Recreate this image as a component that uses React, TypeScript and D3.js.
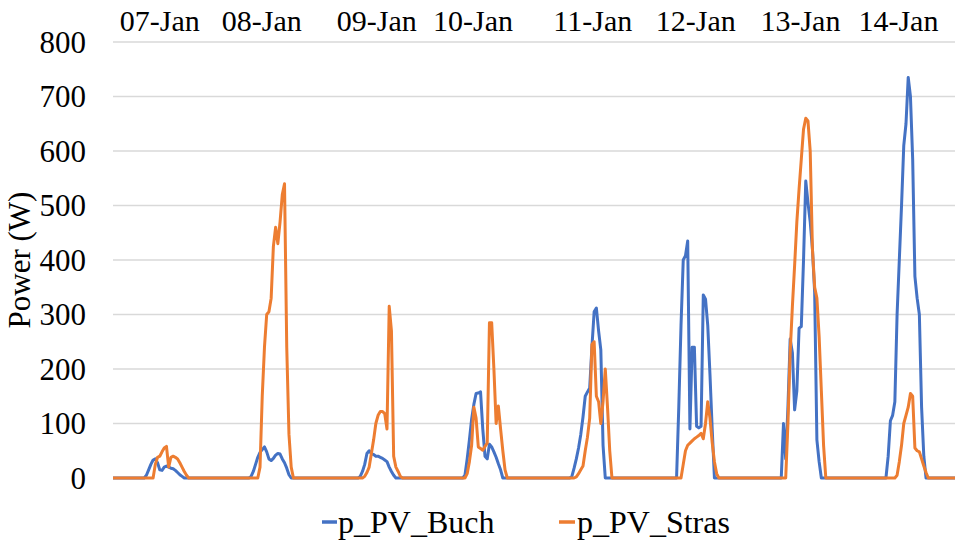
import React from 'react';
import * as d3 from 'd3';

// half-hourly values 06:00 .. 18:00 for each day (W), zero outside
const buchByDay = [
  [0, 0, 0, 5, 15, 25, 33, 35, 28, 15, 14, 20, 22, 20, 18, 17, 14, 10, 6, 3, 0, 0, 0, 0, 0],
  [0, 0, 3, 12, 25, 38, 47, 52, 57, 48, 35, 32, 36, 42, 45, 44, 35, 28, 18, 6, 0, 0, 0, 0, 0],
  [0, 0, 0, 3, 12, 25, 45, 50, 45, 43, 40, 40, 38, 36, 33, 30, 20, 12, 5, 0, 0, 0, 0, 0, 0],
  [0, 0, 5, 35, 70, 108, 135, 155, 156, 158, 90, 40, 35, 62, 57, 48, 38, 26, 15, 0, 0, 0, 0, 0, 0],
  [0, 0, 3, 18, 35, 55, 80, 112, 150, 158, 165, 240, 305, 312, 270, 235, 60, 0, 0, 0, 0, 0, 0, 0, 0],
  [0, 0, 130, 280, 400, 408, 435, 90, 240, 240, 95, 92, 95, 336, 328, 280, 190, 90, 0, 0, 0, 0, 0, 0, 0],
  [0, 100, 35, 130, 255, 230, 125, 160, 275, 278, 400, 545, 505, 470, 420, 340, 70, 30, 0, 0, 0, 0, 0, 0, 0],
  [40, 105, 115, 140, 300, 400, 500, 610, 650, 735, 700, 585, 370, 330, 300, 130, 40, 0, 0, 0, 0, 0, 0, 0, 0],
];

const strasByDay = [
  [0, 0, 0, 0, 0, 0, 0, 25, 38, 40, 48, 55, 58, 20, 38, 40, 38, 35, 28, 20, 12, 5, 0, 0, 0],
  [0, 0, 0, 0, 0, 0, 20, 150, 240, 300, 305, 330, 425, 460, 430, 470, 520, 540, 240, 80, 20, 0, 0, 0, 0],
  [0, 0, 0, 0, 0, 3, 10, 20, 45, 70, 100, 115, 122, 122, 118, 90, 315, 270, 40, 20, 12, 3, 0, 0, 0],
  [0, 0, 0, 8, 30, 60, 130, 110, 57, 54, 51, 58, 64, 285, 285, 200, 100, 132, 90, 50, 15, 0, 0, 0, 0],
  [0, 0, 0, 0, 2, 8, 15, 22, 50, 75, 110, 245, 250, 150, 140, 100, 140, 200, 130, 50, 0, 0, 0, 0, 0],
  [0, 0, 0, 0, 25, 50, 60, 64, 68, 72, 75, 78, 82, 72, 100, 140, 110, 65, 30, 8, 0, 0, 0, 0, 0],
  [0, 0, 0, 100, 230, 315, 390, 470, 530, 585, 640, 660, 655, 600, 420, 350, 330, 260, 160, 60, 0, 0, 0, 0, 0],
  [0, 0, 0, 0, 5, 30, 60, 100, 115, 130, 155, 150, 55, 50, 48, 35, 22, 10, 0, 0, 0, 0, 0, 0, 0],
];

const dateLabels = ['07-Jan', '08-Jan', '09-Jan', '10-Jan', '11-Jan', '12-Jan', '13-Jan', '14-Jan'];
// label positions in hours from 07-Jan 00:00
const dateLabelHours = [10.5, 33.4, 59.2, 80.8, 107.7, 130.8, 154.3, 176.3];
const yTicks = [0, 100, 200, 300, 400, 500, 600, 700, 800];

const totalHours = 189;
const FONT = '"Liberation Serif", "Times New Roman", serif';

type Pt = { h: number; v: number };

function buildSeries(byDay: number[][]): Pt[] {
  const pts: Pt[] = [];
  for (let h = 0; h <= totalHours; h += 0.5) {
    const day = Math.floor(h / 24);
    const hod = h - day * 24;
    let v = 0;
    if (hod >= 6 && hod <= 18 && byDay[day]) {
      v = byDay[day][Math.round((hod - 6) * 2)] ?? 0;
    }
    pts.push({ h, v });
  }
  return pts;
}

const buch = buildSeries(buchByDay);
const stras = buildSeries(strasByDay);

const App: React.FC = () => {
  const width = 955;
  const height = 543;
  const margin = { left: 113, right: 0, top: 42, bottom: 65 };

  const x = d3.scaleLinear().domain([0, totalHours]).range([margin.left, width - margin.right]);
  const y = d3.scaleLinear().domain([0, 800]).range([height - margin.bottom, margin.top]);

  const line = d3.line<Pt>().x(d => x(d.h)).y(d => y(d.v));

  return (
    <svg width={width} height={height} style={{ position: 'absolute', left: 0, top: 0, background: '#fff' }}>
      {yTicks.map(t => (
        <g key={t}>
          {t > 0 && (
            <line x1={margin.left} x2={width - margin.right} y1={y(t)} y2={y(t)} stroke="#d9d9d9" strokeWidth={1.5} />
          )}
          <text x={86} y={y(t)} dy="0.35em" textAnchor="end" fontFamily={FONT} fontSize={31} fill="#000">
            {t}
          </text>
        </g>
      ))}

      {dateLabels.map((d, i) => (
        <text key={d} x={x(dateLabelHours[i])} y={31} textAnchor="middle" fontFamily={FONT} fontSize={30} fill="#000">
          {d}
        </text>
      ))}

      <text
        transform={`translate(30,${(y(0) + y(800)) / 2}) rotate(-90)`}
        textAnchor="middle"
        fontFamily={FONT}
        fontSize={31}
        fill="#000"
      >
        Power (W)
      </text>

      <path d={line(buch) ?? ''} fill="none" stroke="#4472C4" strokeWidth={3} strokeLinejoin="round" />
      <path d={line(stras) ?? ''} fill="none" stroke="#ED7D31" strokeWidth={3} strokeLinejoin="round" />

      <g fontFamily={FONT} fontSize={32} fill="#000">
        <line x1={322} x2={337} y1={522} y2={522} stroke="#4472C4" strokeWidth={3.5} />
        <text x={338} y={533}>p_PV_Buch</text>
        <line x1={559} x2={575} y1={522} y2={522} stroke="#ED7D31" strokeWidth={3.5} />
        <text x={577} y={533}>p_PV_Stras</text>
      </g>
    </svg>
  );
};

export default App;
